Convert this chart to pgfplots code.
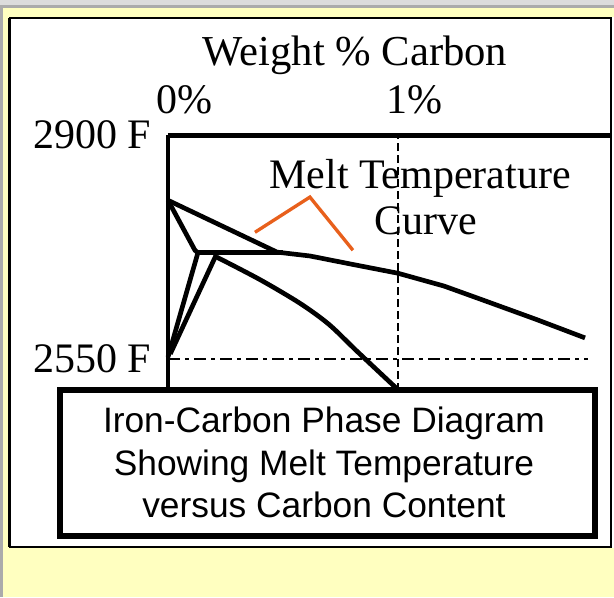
\documentclass[border=0pt]{standalone}
\usepackage{pgfplots}
\pgfplotsset{compat=1.18}
\usepackage{fontspec}
\setmainfont{Liberation Serif}
\newfontfamily\arialfont{Liberation Sans}
\definecolor{bgyellow}{HTML}{FFFFC0}
\definecolor{brorange}{HTML}{E8601C}
\definecolor{gtop}{HTML}{DCDCDC}
\definecolor{gmid}{HTML}{ABABAB}
\begin{document}
\begin{tikzpicture}
\begin{scope}[x=0.75pt,y=-0.75pt]
\useasboundingbox (0,0) rectangle (614,597);
\fill[bgyellow] (0,0) rectangle (614,597);
\fill[gtop] (0,0) rectangle (614,5);
\fill[gmid] (0,5) rectangle (614,8);
\fill[gmid] (0,8) rectangle (3,597);
\fill[white] (611,17) rectangle (614,548);
\draw[black, line width=1.5pt, fill=white] (9.5,18) rectangle (611,547);
\draw[black, line width=2.25pt] (9.5,18) -- (9.5,547);
\end{scope}
\begin{axis}[
  at={(126pt,-293.25pt)}, anchor=south west,
  scale only axis, width=332.25pt, height=192pt,
  xmin=0, xmax=1.926, ymin=2500, ymax=2900,
  clip=false,
  axis line style={draw=none},
  tick style={draw=none}, major tick length=0pt,
  xtick={0,1}, xticklabels={0\%,1\%},
  xticklabel pos=upper,
  xticklabel style={anchor=base, inner sep=0pt, xshift=12pt, yshift=16.5pt, font=\fontsize{31.5}{38}\selectfont},
  ytick={2550,2900}, yticklabels={2550 F,2900 F},
  yticklabel style={anchor=east, inner sep=0pt, xshift=-12.5pt, font=\fontsize{31.5}{38}\selectfont},
]
% reference lines
\addplot[black, line width=1.5pt, dash pattern=on 6pt off 3pt] coordinates {(1.0,2500) (1.0,2900)};
\addplot[black, line width=1.5pt, dash pattern=on 9pt off 3.75pt on 3pt off 3.75pt] coordinates {(0,2550) (1.826,2550)};
% frame
\draw[black, line width=2.5pt] (axis cs:0,2900) -- (axis cs:0,2500);
\draw[black, line width=3.75pt] (axis cs:0,2900) -- (axis cs:1.926,2900);
% liquidus / melt temperature curve
\addplot[black, line width=3.5pt, line join=round] coordinates {
 (0,2798) (0.474,2717) (0.617,2711) (0.8,2698) (1.0,2684) (1.2,2664) (1.37,2642) (1.6,2612) (1.813,2583)};
% peritectic line
\addplot[black, line width=3.5pt] coordinates {(0.13,2716) (0.5,2716)};
% delta boundary
\addplot[black, line width=3.5pt, line join=round] coordinates {(0,2798) (0.117,2720) (0.13,2716)};
% delta/gamma boundaries
\addplot[black, line width=3.5pt, line join=round] coordinates {(0.13,2716) (0.0,2553)};
\addplot[black, line width=3.5pt, line join=round] coordinates {(0.21,2713) (0.01,2558)};
% gamma solidus
\addplot[black, line width=3.5pt, line join=round, smooth] coordinates {
 (0.213,2709) (0.4,2674) (0.574,2637) (0.7,2604) (0.822,2562) (1.0,2502)};
% orange bracket
\addplot[brorange, line width=2.5pt, line join=miter] coordinates {(0.378,2748) (0.617,2803) (0.804,2720)};
% annotations
\node[anchor=base, font=\fontsize{32}{38}\selectfont] at (axis cs:0.813,3009) {Weight \% Carbon};
\node[anchor=base, font=\fontsize{31.5}{38}\selectfont] at (axis cs:1.096,2817) {Melt Temperature};
\node[anchor=base, font=\fontsize{31.5}{38}\selectfont] at (axis cs:1.122,2744) {Curve};
% caption box
\draw[black, line width=4pt, fill=white] (axis cs:-0.4696,2501.6) rectangle (axis cs:1.8565,2273.4);
\node[anchor=base, font=\arialfont\fontsize{26.5}{32}\selectfont] at (axis cs:0.678,2434.4) {Iron-Carbon Phase Diagram};
\node[anchor=base, font=\arialfont\fontsize{26.5}{32}\selectfont] at (axis cs:0.678,2368.75) {Showing Melt Temperature};
\node[anchor=base, font=\arialfont\fontsize{26.5}{32}\selectfont] at (axis cs:0.678,2303.1) {versus Carbon Content};
\end{axis}
\end{tikzpicture}
\end{document}
